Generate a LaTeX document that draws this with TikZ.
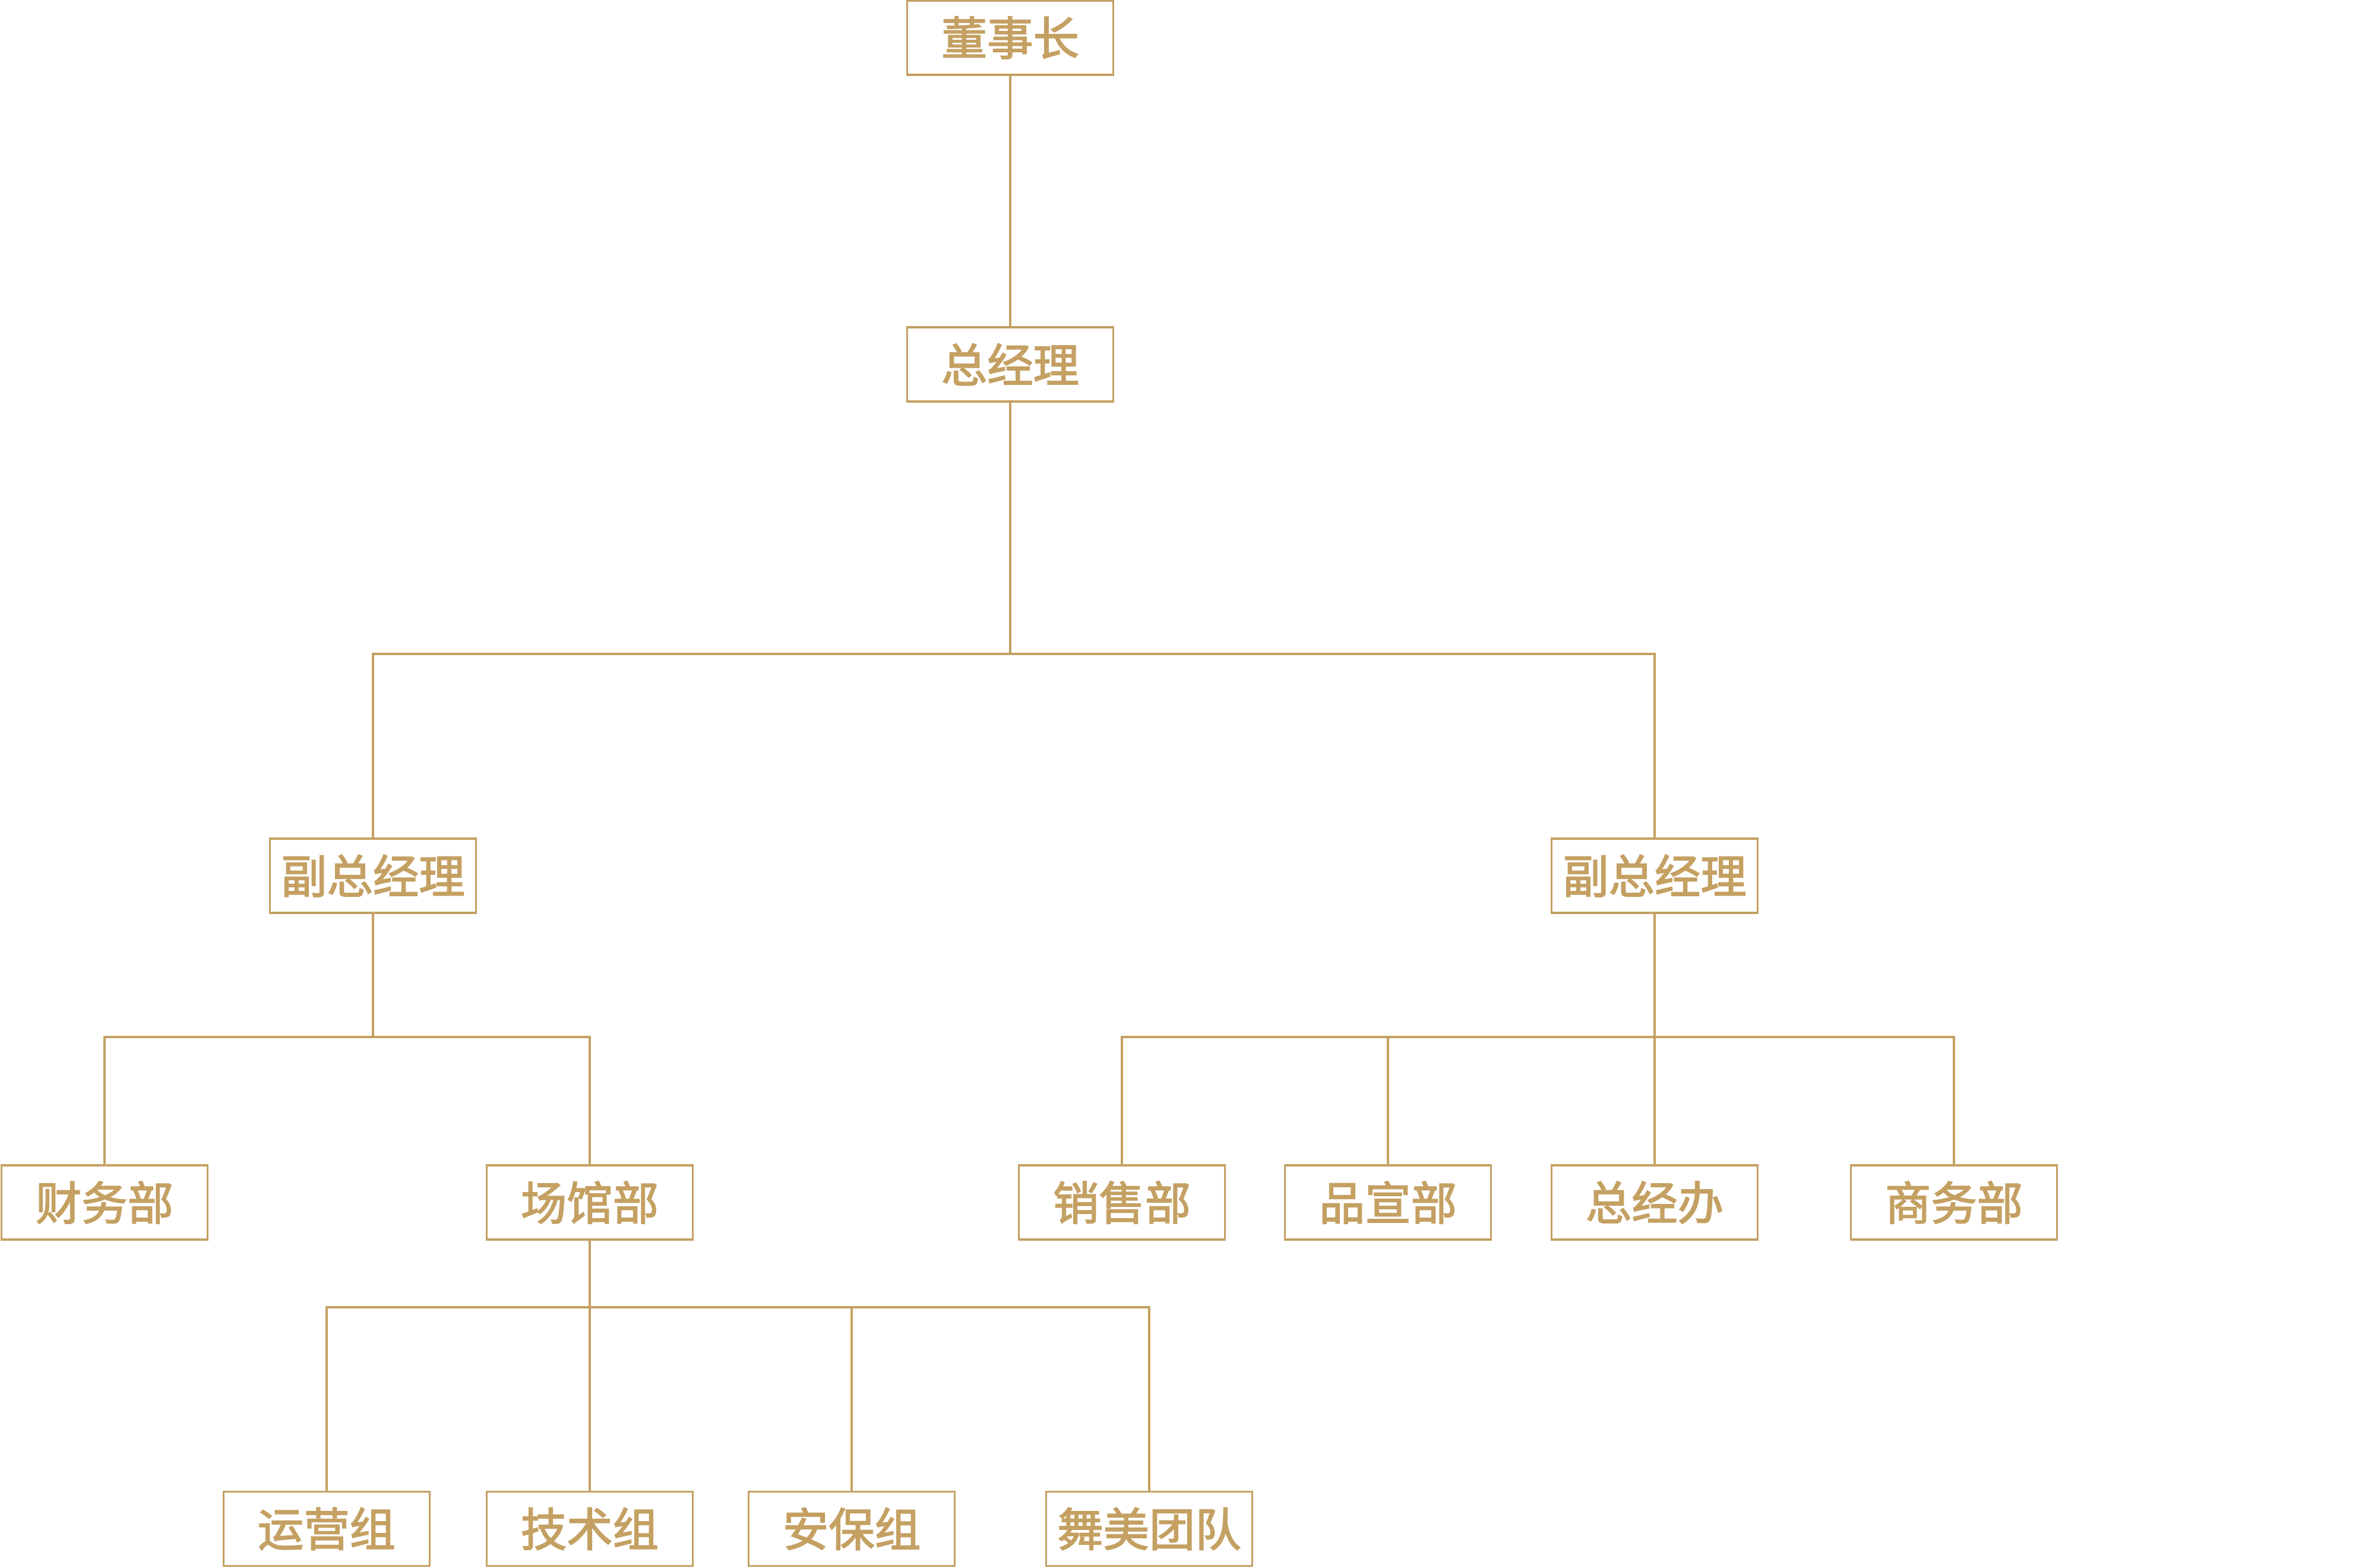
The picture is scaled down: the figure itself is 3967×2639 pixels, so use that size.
\documentclass[tikz,border=0pt]{standalone}
\usepackage{fontspec}
\newfontfamily\cjk{Noto Sans CJK SC}[FakeBold=2.2]
\definecolor{gold}{RGB}{196,160,98}
\begin{document}
\begin{tikzpicture}[x=0.01cm,y=-0.01cm,
  box/.style={draw=gold,line width=0.95pt,minimum width=3.47cm,minimum height=1.25cm,inner sep=0pt,
    text=gold,font=\cjk\fontsize{22pt}{24pt}\selectfont},
  conn/.style={draw=gold,line width=1pt}]
\useasboundingbox[fill=white] (0,0) rectangle (3967,2639);
\node[box] (dsz) at (1701,63.5) {董事长};
\node[box] (zjl) at (1701,613.5) {总经理};
\node[box] (fzl) at (628,1474.5) {副总经理};
\node[box] (fzr) at (2786,1474.5) {副总经理};
\node[box] (cw) at (176,2024.5) {财务部};
\node[box] (cg) at (993,2024.5) {场馆部};
\node[box] (xs) at (1889,2024.5) {销售部};
\node[box] (px) at (2337,2024.5) {品宣部};
\node[box] (zjb) at (2786,2024.5) {总经办};
\node[box] (sw) at (3290,2024.5) {商务部};
\node[box] (yy) at (550,2574) {运营组};
\node[box] (js) at (993,2574) {技术组};
\node[box] (ab) at (1434,2574) {安保组};
\node[box] (wm) at (1935,2574) {舞美团队};
\coordinate (j1) at (1701,1101);
\coordinate (j2) at (628,1746);
\coordinate (j3) at (2786,1746);
\coordinate (j4) at (993,2201);
\draw[conn] (dsz) -- (zjl);
\draw[conn] (zjl) -- (j1);
\draw[conn] (fzl) |- (j1) -| (fzr);
\draw[conn] (fzl) -- (j2);
\draw[conn] (cw) |- (j2) -| (cg);
\draw[conn] (fzr) -- (zjb);
\draw[conn] (xs) |- (j3) -| (sw);
\draw[conn] (px) -- (px |- j3);
\draw[conn] (cg) -- (js);
\draw[conn] (yy) |- (j4) -| (wm);
\draw[conn] (ab) -- (ab |- j4);
\end{tikzpicture}
\end{document}
